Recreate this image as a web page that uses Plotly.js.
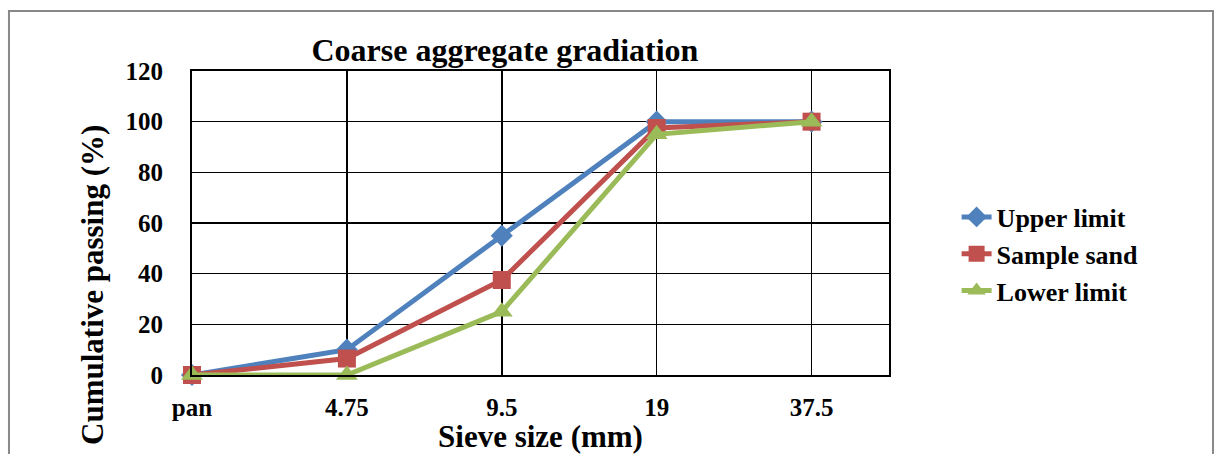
<!DOCTYPE html>
<html>
<head>
<meta charset="utf-8">
<script src="https://cdn.plot.ly/plotly-3.0.1.min.js"></script>
<style>html,body{margin:0;padding:0;background:#fff;}#chart{width:1214px;height:454px;}</style>
</head>
<body>
<div id="chart"></div>
<script>
const sieveSizes = ["pan", "4.75", "9.5", "19", "37.5"];
const upperLimit = [0, 10, 55, 100, 100];
const sampleSand = [0, 6.5, 37.5, 97.5, 100];
const lowerLimit = [0, 0, 25, 95, 100];
const yTicks = [0, 20, 40, 60, 80, 100, 120];

const FONT = "Liberation Serif, Times New Roman, serif";

const traces = [
  {x: sieveSizes, y: upperLimit, name: "Upper limit", legendgroup: "a",
   mode: "lines+markers", line: {color: "#4F81BD", width: 5}, cliponaxis: false,
   marker: {symbol: "diamond", size: 17, color: "#4F81BD"}},
  {x: sieveSizes, y: sampleSand, name: "Sample sand", legendgroup: "b",
   mode: "lines+markers", line: {color: "#C0504D", width: 5}, cliponaxis: false,
   marker: {symbol: "square", size: 18, color: "#C0504D"}},
  {x: sieveSizes, y: lowerLimit, name: "Lower limit", legendgroup: "c",
   mode: "lines+markers", line: {color: "#9BBB59", width: 5}, cliponaxis: false,
   marker: {symbol: "triangle-up", size: 19, color: "#9BBB59"}}
];

const layout = {
  width: 1214, height: 454,
  margin: {l: 192, r: 325, t: 71, b: 79},
  paper_bgcolor: "#fff", plot_bgcolor: "#fff",
  font: {family: FONT, color: "#000", weight: "bold"},
  title: {text: "Coarse aggregate gradiation", font: {family: FONT, size: 32, weight: "bold", color: "#000"},
          x: 0.449, xref: "paper", xanchor: "center", y: 1 - 50/454, yref: "container", yanchor: "middle"},
  xaxis: {type: "category", range: [0, 4.5], showgrid: true, gridcolor: "#000", gridwidth: 1.5,
          showline: true, linecolor: "#000", linewidth: 2, mirror: true, zeroline: false,
          ticks: "", ticklabelstandoff: 9, tickfont: {size: 25, family: FONT, weight: "bold"},
          title: {text: "Sieve size (mm)", font: {size: 31, family: FONT, weight: "bold"}, standoff: 2}},
  yaxis: {range: [0, 120], tickvals: yTicks, showgrid: true, gridcolor: "#000", gridwidth: 1.5,
          showline: true, linecolor: "#000", linewidth: 2, mirror: true, zeroline: false,
          ticks: "", ticklabelstandoff: 22, tickfont: {size: 25, family: FONT, weight: "bold"}},
  annotations: [{text: "Cumulative passing (%)", textangle: -90, xref: "paper", yref: "paper",
                 x: -0.1435, y: 0.296, xanchor: "center", yanchor: "middle", showarrow: false,
                 font: {size: 31, family: FONT, weight: "bold", color: "#000"}}],
  legend: {x: 1.097, y: 0.398, xanchor: "left", yanchor: "middle", traceorder: "grouped", tracegroupgap: 0,
           font: {size: 26, family: FONT, weight: "bold"}, bgcolor: "rgba(0,0,0,0)"},
  showlegend: true,
  shapes: [{type: "rect", xref: "paper", yref: "paper", x0: -0.2626, x1: 1.4649, y0: -0.6, y1: 1.197,
            line: {color: "#888", width: 2}, layer: "below"}]
};

Plotly.newPlot("chart", traces, layout, {displayModeBar: false, staticPlot: true});
</script>
</body>
</html>
